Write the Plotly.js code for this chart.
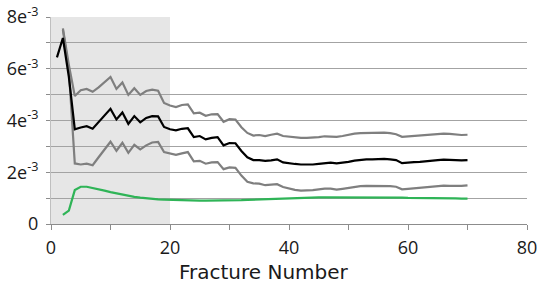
<!DOCTYPE html>
<html>
<head>
<meta charset="utf-8">
<script src="https://cdn.plot.ly/plotly-3.0.1.min.js"></script>
<style>html,body{margin:0;padding:0;background:#fff;}#chart{width:537px;height:287px;}</style>
</head>
<body>
<div id="chart"></div>
<script>
// Fracture number (x) and values in units of 1e-3
const fractureMean = [1,2,3,4,5,6,7,8,9,10,11,12,13,14,15,16,17,18,19,20,21,22,23,24,25,26,27,28,29,30,31,32,33,34,35,36,37,38,39,40,41,42,43,44,45,46,47,48,49,50,51,52,53,54,55,56,57,58,59,60,61,62,63,64,65,66,67,68,69,70];
const fractureOther = [2,3,4,5,6,7,8,9,10,11,12,13,14,15,16,17,18,19,20,21,22,23,24,25,26,27,28,29,30,31,32,33,34,35,36,37,38,39,40,41,42,43,44,45,46,47,48,49,50,51,52,53,54,55,56,57,58,59,60,61,62,63,64,65,66,67,68,69,70];

const meanE3 = [6.44,7.19,5.69,3.66,3.73,3.78,3.68,3.93,4.22,4.45,4.04,4.31,3.87,4.17,3.93,4.10,4.17,4.16,3.75,3.66,
  3.62,3.68,3.70,3.36,3.40,3.27,3.33,3.36,3.04,3.13,3.12,2.82,2.58,2.47,2.47,2.44,2.46,2.50,2.38,2.34,
  2.32,2.30,2.29,2.30,2.32,2.35,2.37,2.34,2.36,2.40,2.45,2.48,2.50,2.50,2.51,2.52,2.50,2.47,2.35,2.38,
  2.39,2.40,2.43,2.45,2.47,2.49,2.49,2.47,2.46,2.47];

const upperE3 = [7.56,6.15,4.95,5.17,5.22,5.11,5.28,5.49,5.68,5.22,5.47,4.99,5.25,4.99,5.14,5.19,5.15,4.68,4.58,
  4.52,4.60,4.62,4.28,4.30,4.18,4.24,4.25,3.95,4.05,4.04,3.74,3.52,3.42,3.44,3.40,3.45,3.49,3.40,3.37,
  3.35,3.33,3.33,3.34,3.36,3.39,3.39,3.37,3.40,3.45,3.49,3.51,3.52,3.52,3.53,3.53,3.51,3.47,3.37,3.39,
  3.40,3.42,3.44,3.46,3.47,3.49,3.48,3.45,3.44,3.45];

const lowerE3 = [7.50,5.95,2.34,2.30,2.33,2.27,2.58,2.90,3.18,2.83,3.14,2.75,3.06,2.88,3.04,3.15,3.17,2.78,2.71,
  2.67,2.73,2.78,2.42,2.44,2.33,2.38,2.39,2.12,2.19,2.17,1.87,1.63,1.57,1.56,1.50,1.52,1.54,1.43,1.36,
  1.32,1.29,1.29,1.31,1.34,1.37,1.37,1.33,1.36,1.40,1.44,1.46,1.47,1.47,1.48,1.47,1.46,1.44,1.34,1.36,
  1.38,1.39,1.42,1.45,1.47,1.48,1.47,1.46,1.47,1.49];

const greenE3 = [0.35,0.52,1.31,1.44,1.44,1.40,1.34,1.29,1.23,1.18,1.13,1.09,1.05,1.02,0.99,0.97,0.95,0.94,0.93,
  0.92,0.92,0.91,0.91,0.90,0.90,0.90,0.90,0.90,0.91,0.91,0.92,0.93,0.94,0.95,0.96,0.97,0.98,0.99,1.00,
  1.01,1.01,1.02,1.02,1.03,1.03,1.03,1.04,1.04,1.04,1.04,1.04,1.04,1.03,1.03,1.03,1.02,1.02,1.02,1.01,
  1.01,1.01,1.00,1.00,1.00,0.99,0.99,0.99,0.98,0.98];

const yTickVals = [0,0.001,0.002,0.003,0.004,0.005,0.006,0.007,0.008];
const yTickText = ["0","","2e<sup>-3</sup>","","4e<sup>-3</sup>","","6e<sup>-3</sup>","","8e<sup>-3</sup>"];
const xTickVals = [0,10,20,30,40,50,60,70,80];
const xTickText = ["0","","20","","40","","60","","80"];
const xTitle = 'Fracture Number';

const toAbs = a => a.map(v => v * 1e-3);

const traces = [
  {x: fractureOther, y: toAbs(upperE3), mode: 'lines', line: {color: '#7f7f7f', width: 2.2}, hoverinfo: 'skip'},
  {x: fractureOther, y: toAbs(lowerE3), mode: 'lines', line: {color: '#7f7f7f', width: 2.2}, hoverinfo: 'skip'},
  {x: fractureOther, y: toAbs(greenE3), mode: 'lines', line: {color: '#2fb457', width: 2.2}, hoverinfo: 'skip'},
  {x: fractureMean, y: toAbs(meanE3), mode: 'lines', line: {color: '#000000', width: 2.2}, hoverinfo: 'skip'}
];

const layout = {
  width: 537, height: 287,
  margin: {l: 51, r: 10, t: 17, b: 63},
  paper_bgcolor: '#ffffff', plot_bgcolor: '#ffffff',
  showlegend: false,
  font: {family: 'Open Sans, sans-serif', color: '#1a1a1a', size: 18},
  xaxis: {
    range: [0, 80], tickmode: 'array', tickvals: xTickVals, ticktext: xTickText,
    ticks: 'outside', ticklen: 5, tickcolor: '#8c8c8c', tickwidth: 1,
    showline: true, linecolor: '#8c8c8c', linewidth: 1,
    showgrid: false, zeroline: false, ticklabelstandoff: 2,
    ticklabeloverflow: 'allow',
    tickfont: {size: 18, color: '#1a1a1a'}
  },
  yaxis: {
    range: [0, 0.008], tickmode: 'array', tickvals: yTickVals, ticktext: yTickText,
    ticks: 'outside', ticklen: 4, tickcolor: '#8c8c8c', tickwidth: 1,
    showline: true, linecolor: '#bfbfbf', linewidth: 1,
    showgrid: true, gridcolor: '#a3a3a3', gridwidth: 1, zeroline: false,
    ticklabelstandoff: 4, ticklabeloverflow: 'allow',
    tickfont: {size: 18, color: '#1a1a1a'}
  },
  annotations: [{
    text: xTitle, xref: 'paper', yref: 'paper', x: (263.5 - 51) / 476, y: -0.232,
    xanchor: 'center', yanchor: 'middle', showarrow: false,
    font: {family: 'DejaVu Sans, sans-serif', size: 20, color: '#1a1a1a'}
  }],
  shapes: [{
    type: 'rect', xref: 'x', yref: 'y', x0: 0, x1: 20, y0: 0, y1: 0.008,
    fillcolor: '#e6e6e6', line: {width: 0}, layer: 'below'
  }]
};

Plotly.newPlot('chart', traces, layout, {staticPlot: true, displayModeBar: false});
</script>
</body>
</html>
